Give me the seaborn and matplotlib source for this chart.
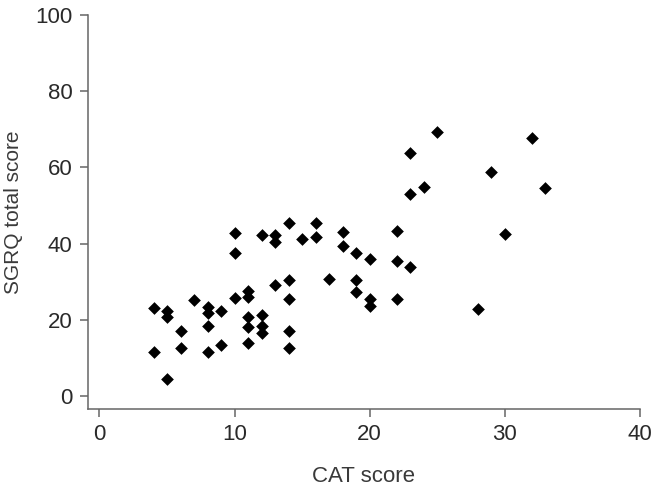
import matplotlib
matplotlib.use("Agg")
import matplotlib.pyplot as plt
import seaborn as sns
import pandas as pd

cat_score = [4, 4, 5, 5, 5, 6, 6, 7, 8, 8, 8, 8, 9, 9,
             10, 10, 10, 11, 11, 11, 11, 11,
             12, 12, 12, 12, 13, 13, 13,
             14, 14, 14, 14, 14, 15, 16, 16, 17, 18, 18,
             19, 19, 19, 20, 20, 20, 22, 22, 22,
             23, 23, 23, 24, 25, 28, 29, 30, 32, 33]
sgrq_total = [23.2, 11.5, 22.4, 20.7, 4.5, 17.1, 12.7, 25.2, 23.4, 21.7, 18.4, 11.6, 22.3, 13.4,
              42.7, 37.5, 25.8, 27.6, 26.0, 20.8, 18.2, 14.0,
              42.3, 21.2, 18.3, 16.5, 42.3, 40.3, 29.1,
              45.3, 30.4, 25.4, 17.1, 12.7, 41.1, 45.5, 41.8, 30.6, 43.1, 39.4,
              37.5, 30.4, 27.2, 35.9, 25.5, 23.7, 43.4, 35.4, 25.5,
              63.7, 52.9, 33.9, 54.8, 69.2, 22.8, 58.8, 42.5, 67.6, 54.5]
x_ticks = [0, 10, 20, 30, 40]
y_ticks = [0, 20, 40, 60, 80, 100]

df = pd.DataFrame({"CAT score": cat_score, "SGRQ total score": sgrq_total})

sns.set_style("ticks")
plt.rcParams["font.family"] = ["Liberation Sans", "DejaVu Sans"]

fig = plt.figure(figsize=(6.53, 4.86), dpi=100)
ax = fig.add_axes([88 / 653, 1 - 409 / 486, (640 - 88) / 653, (409 - 15) / 486])

sns.scatterplot(data=df, x="CAT score", y="SGRQ total score", marker="D",
                color="black", s=42, linewidth=0, ax=ax)

ax.set_xlim(-0.85, 40)
ax.set_ylim(-3.4, 100)
ax.set_xticks(x_ticks)
ax.set_yticks(y_ticks)

spine_col = "#666666"
for side in ["top", "right"]:
    ax.spines[side].set_visible(False)
for side in ["left", "bottom"]:
    ax.spines[side].set_color(spine_col)
    ax.spines[side].set_linewidth(1.1)

ax.tick_params(axis="both", direction="out", length=6, width=1.1, color=spine_col,
               labelsize=16, labelcolor="#2a2a2a", pad=5)
ax.set_xlabel("CAT score", fontsize=16, color="#3a3a3a", labelpad=15)
ax.set_ylabel("SGRQ total score", fontsize=15, color="#3a3a3a", labelpad=9)

fig.savefig("out.png", dpi=100, facecolor="white")
